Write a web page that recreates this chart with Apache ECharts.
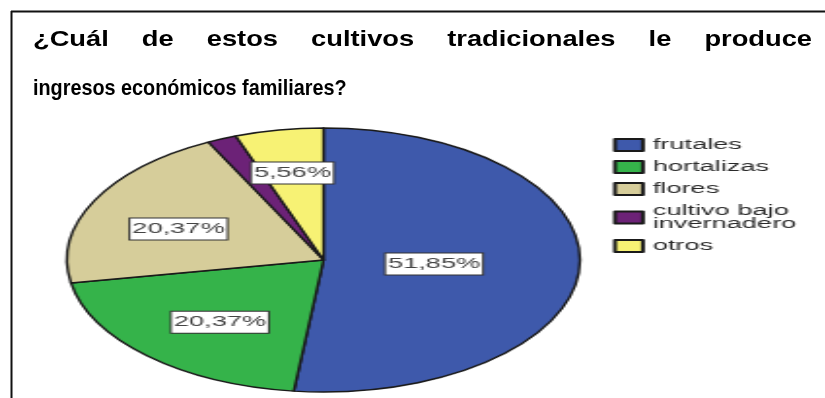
<!DOCTYPE html>
<html>
<head>
<meta charset="utf-8">
<script src="https://cdn.jsdelivr.net/npm/echarts@6/dist/echarts.min.js"></script>
<style>
  html, body { margin: 0; padding: 0; background: #fff; overflow: hidden; }
  #frame { position: absolute; left: 0; top: 0; width: 825px; height: 398px; }
  /* the pie is drawn round and stretched sideways into an oval */
  #pie { position: absolute; left: 0; top: 0; width: 425px; height: 398px;
         transform: scaleX(1.943); transform-origin: 0 0; }
</style>
</head>
<body>
<div id="frame"></div>
<div id="pie"></div>
<script>
// Question text (first line is justified word by word)
const headingLine1 = ['¿Cuál', 'de', 'estos', 'cultivos', 'tradicionales', 'le', 'produce'];
const headingLine2 = 'ingresos económicos familiares?';

// Crops and their share of answers (%)
const crops = ['frutales', 'hortalizas', 'flores', 'cultivo bajo\ninvernadero', 'otros'];
const shares = [51.85, 20.37, 20.37, 1.85, 5.56];

const sliceColors = ['#3e59ab', '#35b34a', '#d6cd9a', '#6c2277', '#f7f274'];
// small nudges of the value boxes inside their slices
const labelNudge = [[-12, 0], [-6, 12], [-13, 0], [0, 0], [-4, -19]];

const TITLE_FONT = 'bold 22px "Liberation Sans", Arial, sans-serif';
const measureCtx = document.createElement('canvas').getContext('2d');
measureCtx.font = TITLE_FONT;
const textW = s => measureCtx.measureText(s).width;

// ---- frame + heading ----
const frame = echarts.init(document.getElementById('frame'), null, { renderer: 'canvas' });
const left = 33, right = 812;
const wide = 1.24, narrow = 0.9;
const widths = headingLine1.map(w => textW(w) * wide);
const gap = (right - left - widths.reduce((a, b) => a + b, 0)) / (headingLine1.length - 1);
let cursor = left;
const headingEls = headingLine1.map((w, i) => {
  const el = {
    type: 'text', x: cursor, y: 40, scaleX: wide,
    style: { text: w, font: TITLE_FONT, fill: '#000', verticalAlign: 'middle', align: 'left' }
  };
  cursor += widths[i] + gap;
  return el;
});
headingEls.push({
  type: 'text', x: left, y: 89, scaleX: narrow,
  style: { text: headingLine2, font: TITLE_FONT, fill: '#000', verticalAlign: 'middle', align: 'left' }
});

frame.setOption({
  animation: false,
  backgroundColor: '#fff',
  graphic: [
    { type: 'line', shape: { x1: 11.5, y1: 11, x2: 11.5, y2: 398 }, style: { stroke: '#111', lineWidth: 2 } },
    { type: 'line', shape: { x1: 11, y1: 11.5, x2: 825, y2: 11.5 }, style: { stroke: '#111', lineWidth: 2 } },
    ...headingEls
  ]
});

// ---- pie + legend ----
const pie = echarts.init(document.getElementById('pie'), null, { renderer: 'canvas' });
pie.setOption({
  animation: false,
  legend: {
    orient: 'vertical',
    left: 315.5,
    top: 138,
    padding: 0,
    itemWidth: 14.4,
    itemHeight: 12,
    itemGap: 8,
    icon: 'rect',
    selectedMode: false,
    data: crops,
    textStyle: { fontSize: 14, fontFamily: '"Liberation Sans", Arial, sans-serif', color: '#2a2a2a', lineHeight: 13 }
  },
  series: [{
    type: 'pie',
    center: [166.5, 260],
    radius: 132,
    startAngle: 90,
    clockwise: true,
    minShowLabelAngle: 10,
    emphasis: { disabled: true },
    labelLine: { show: false },
    itemStyle: { borderColor: '#1a1a1a', borderWidth: 1.4 },
    label: {
      show: true,
      position: 'inside',
      formatter: p => p.value.toFixed(2).replace('.', ',') + '%',
      fontSize: 14,
      fontFamily: '"Liberation Sans", Arial, sans-serif',
      color: '#444',
      backgroundColor: '#fff',
      borderColor: '#333',
      borderWidth: 1,
      padding: [4, 1, 3, 1]
    },
    data: crops.map((name, i) => ({
      name,
      value: shares[i],
      itemStyle: { color: sliceColors[i] },
      label: { offset: labelNudge[i] }
    }))
  }]
});
</script>
</body>
</html>
